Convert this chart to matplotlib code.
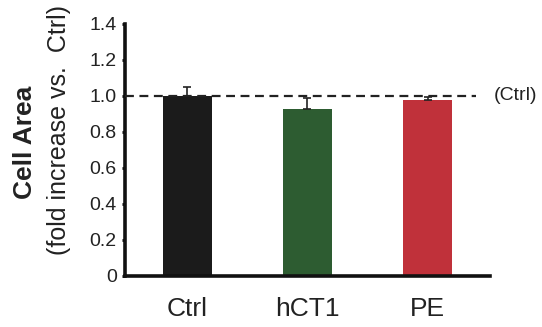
"""Cell area bar chart (fold increase vs. Ctrl)."""
import matplotlib
matplotlib.use("Agg")
import matplotlib.pyplot as plt

plt.rcParams['font.family'] = ['Liberation Sans', 'DejaVu Sans']

groups = ['Ctrl', 'hCT1', 'PE']
values = [1.00, 0.925, 0.978]
errors = [0.05, 0.065, 0.015]
colors = ['#1b1b1b', '#2d5c31', '#c0313a']
yticks = [0, 0.2, 0.4, 0.6, 0.8, 1.0, 1.2, 1.4]
ytick_labels = ['0', '0.2', '0.4', '0.6', '0.8', '1.0', '1.2', '1.4']
ctrl_level = 1.0

fig = plt.figure(figsize=(5.42, 3.27), dpi=100)
ax = fig.add_axes([0.2306, 0.156, 0.904 - 0.2306, 0.927 - 0.156])

x = list(range(len(groups)))
ax.bar(x, values, width=0.41, color=colors, zorder=2)
ax.errorbar(x, values, yerr=[[0] * len(errors), errors], fmt='none',
            ecolor='#222222', elinewidth=1.2, capsize=3, capthick=1.2, zorder=3)

# dashed reference line at control level
ax.plot([-0.52, 2.40], [ctrl_level, ctrl_level], linestyle=(0, (4, 2.5)),
        color='#222222', linewidth=1.6, zorder=4, clip_on=False)
ax.text(2.55, ctrl_level, '(Ctrl)', fontsize=14, va='center', ha='left',
        color='#222222')

ax.set_xlim(-0.52, 2.52)
ax.set_ylim(0, 1.4)
ax.set_yticks(yticks)
ax.set_yticklabels(ytick_labels, fontsize=14, color='#222222')
ax.set_xticks(x)
ax.set_xticklabels(groups, fontsize=19, color='#222222')
ax.tick_params(axis='y', direction='out', length=2, width=2, pad=4)
ax.tick_params(axis='x', length=0, pad=15)

for side in ['top', 'right']:
    ax.spines[side].set_visible(False)
for side in ['left', 'bottom']:
    ax.spines[side].set_linewidth(2.6)
    ax.spines[side].set_color('#111111')

fig.text(0.046, 0.566, 'Cell Area', rotation=90, fontsize=19,
         fontweight='bold', ha='center', va='center', color='#222222')
fig.text(0.109, 0.602, '(fold increase vs.  Ctrl)', rotation=90, fontsize=18,
         ha='center', va='center', color='#222222')

fig.savefig('out.png', dpi=100)
